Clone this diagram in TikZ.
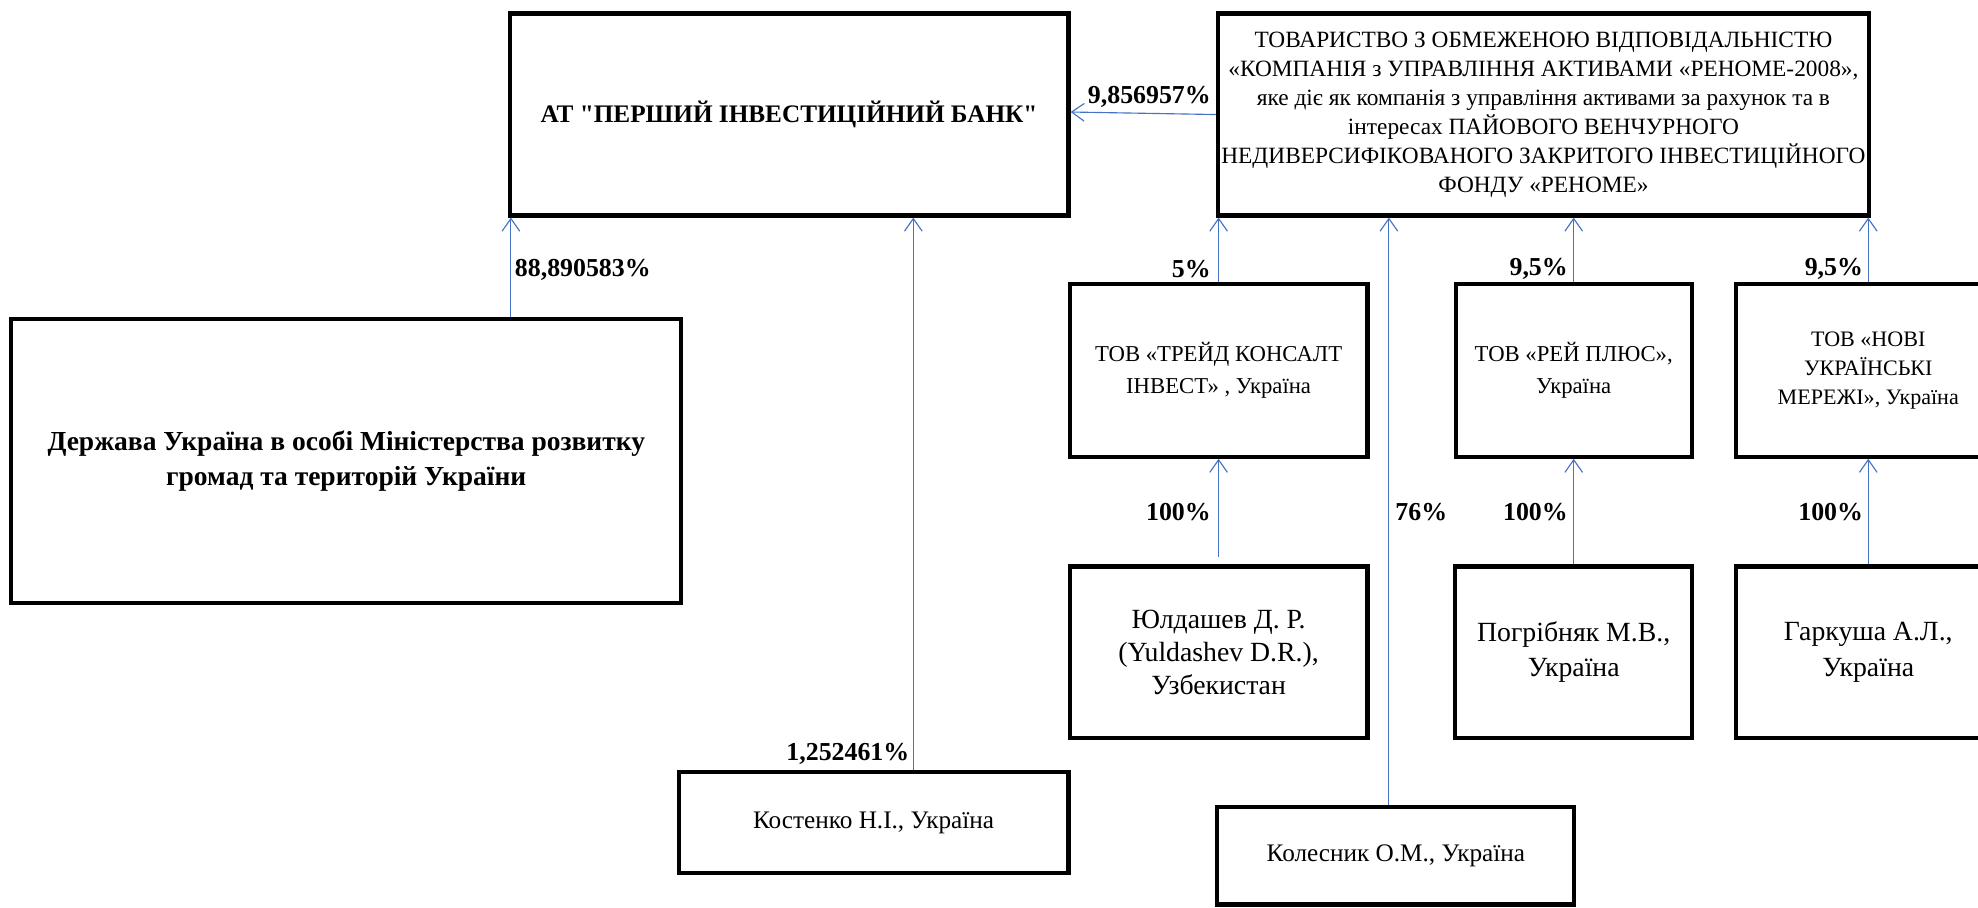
\documentclass[tikz,border=0pt]{standalone}
\usepackage{fontspec}
\setmainfont{Liberation Serif}
\newfontfamily\plainquotes{Liberation Serif}[Ligatures=TeXOff]
\usetikzlibrary{arrows.meta}
\definecolor{linkblue}{RGB}{68,114,196}
\tikzset{
  box/.style={draw=black, line width=3.4pt, inner sep=2pt, align=center, fill=white},
  conn/.style={draw=linkblue, line width=0.9pt, -{Straight Barb[length=10pt,width=14pt]}},
  lbl/.style={inner sep=0pt, font=\bfseries\fontsize{20.5}{24}\selectfont},
}
\begin{document}
\begin{tikzpicture}[x=1pt,y=-1pt]
\useasboundingbox (0,0) rectangle (1568,719);
\clip (0,0) rectangle (1568,719);
% boxes
\node[box, minimum width=443pt, minimum height=160pt, font=\plainquotes\bfseries\fontsize{20}{24}\selectfont] (bank) at (625.5,90.8) {АТ "ПЕРШИЙ ІНВЕСТИЦІЙНИЙ БАНК"};
\node[box, inner sep=0pt, minimum width=516pt, minimum height=160pt, font=\fontsize{18.5}{23}\selectfont] (top) at (1223.5,90.8)
 {ТОВАРИСТВО З ОБМЕЖЕНОЮ ВІДПОВІДАЛЬНІСТЮ\\«КОМПАНІЯ з УПРАВЛІННЯ АКТИВАМИ «РЕНОМЕ-2008»,\\яке діє як компанія з управління активами за рахунок та в\\інтересах ПАЙОВОГО ВЕНЧУРНОГО\\НЕДИВЕРСИФІКОВАНОГО ЗАКРИТОГО ІНВЕСТИЦІЙНОГО\\ФОНДУ «РЕНОМЕ»};
\node[box, minimum width=531pt, minimum height=225pt, font=\bfseries\fontsize{21.8}{28}\selectfont] (left) at (274.5,365.5)
 {Держава Україна в особі Міністерства розвитку\\громад та територій України};
\node[box, minimum width=309pt, minimum height=80pt, font=\fontsize{20}{24}\selectfont] (kost) at (692.5,652) {Костенко Н.І., Україна};
\node[box, minimum width=236pt, minimum height=137pt, font=\fontsize{18}{25}\selectfont] (trade) at (966,293.5) {ТОВ «ТРЕЙД КОНСАЛТ\\ІНВЕСТ» , Україна};
\node[box, minimum width=187pt, minimum height=137pt, font=\fontsize{18}{25}\selectfont] (ray) at (1247.5,293.5) {ТОВ «РЕЙ ПЛЮС»,\\Україна};
\node[box, minimum width=210pt, minimum height=137pt, font=\fontsize{17.5}{23}\selectfont] (novi) at (1481,293.5) {ТОВ «НОВІ\\УКРАЇНСЬКІ\\МЕРЕЖІ», Україна};
\node[box, minimum width=236pt, minimum height=136pt, font=\fontsize{22}{26}\selectfont] (yuld) at (966,517) {Юлдашев Д. Р.\\(Yuldashev D.R.),\\Узбекистан};
\node[box, minimum width=188pt, minimum height=136pt, font=\fontsize{22}{28}\selectfont] (pog) at (1247.5,517) {Погрібняк М.В.,\\Україна};
\node[box, minimum width=210pt, minimum height=136pt, font=\fontsize{22}{28}\selectfont] (hark) at (1481,517) {Гаркуша А.Л.,\\Україна};
\node[box, minimum width=283pt, minimum height=77pt, font=\fontsize{20}{24}\selectfont] (kol) at (1106.5,678.5) {Колесник О.М., Україна};
% helper x positions
\coordinate (c88) at (405,0);
\coordinate (c125) at (724,0);
\coordinate (c76) at (1101,0);
% connectors
\draw[conn] (top.west) -- ([yshift=2pt]bank.east);
\draw[conn] (c88 |- left.north) -- (c88 |- bank.south);
\draw[conn] (c125 |- kost.north) -- (c125 |- bank.south);
\draw[conn] (trade.north) -- (trade.north |- top.south);
\draw[conn] (c76 |- kol.north) -- (c76 |- top.south);
\draw[conn] (ray.north) -- (ray.north |- top.south);
\draw[conn] (novi.north) -- (novi.north |- top.south);
\draw[conn, shorten <=6pt] (yuld.north) -- (trade.south);
\draw[conn] (pog.north) -- (ray.south);
\draw[conn] (hark.north) -- (novi.south);
% labels
\node[lbl, anchor=east] (l1) at (960,77) {9,856957\%};
\node[lbl, anchor=west] (l2) at (408,214) {88,890583\%};
\node[lbl, anchor=east] (l3) at (721,598) {1,252461\%};
\node[lbl, anchor=east] (l4) at (960,213) {5\%};
\node[lbl, anchor=east] (l5) at (1243,213) {9,5\%};
\node[lbl, anchor=east] (l6) at (1477,213) {9,5\%};
\node[lbl, anchor=east] (l7) at (960,406) {100\%};
\node[lbl, anchor=west] (l8) at (1106,406) {76\%};
\node[lbl, anchor=east] (l9) at (1243,406) {100\%};
\node[lbl, anchor=east] (l10) at (1477,406) {100\%};
\end{tikzpicture}
\end{document}
